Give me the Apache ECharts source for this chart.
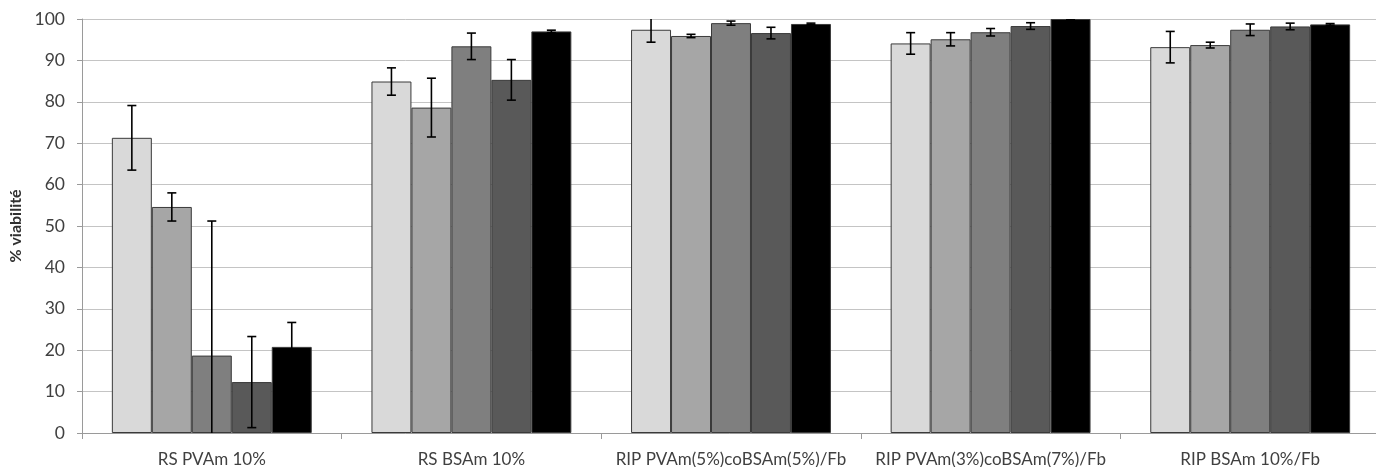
<!DOCTYPE html>
<html><head><meta charset="utf-8">
<script src="https://cdn.jsdelivr.net/npm/echarts@6/dist/echarts.min.js"></script>
<style>html,body{margin:0;padding:0;background:#fff}#c{width:1376px;height:467px}</style>
</head><body><div id="c"></div>
<script>
const categories = ['RS PVAm 10%', 'RS BSAm 10%', 'RIP PVAm(5%)coBSAm(5%)/Fb', 'RIP PVAm(3%)coBSAm(7%)/Fb', 'RIP BSAm 10%/Fb'];
const yTicks = [0, 100, 10];
const s1 = [71.3, 84.9, 97.4, 94.1, 93.2];
const s2 = [54.6, 78.6, 95.9, 95.1, 93.7];
const s3 = [18.7, 93.4, 99.0, 96.8, 97.4];
const s4 = [12.3, 85.3, 96.6, 98.3, 98.2];
const s5 = [20.8, 97.0, 98.8, 100.0, 98.7];
const e1 = [7.8, 3.3, 3.0, 2.6, 3.8];
const e2 = [3.4, 7.1, 0.4, 1.6, 0.7];
const e3 = [32.5, 3.2, 0.5, 0.9, 1.4];
const e4 = [11.0, 4.9, 1.4, 0.8, 0.8];
const e5 = [5.9, 0.3, 0.2, 0.2, 0.2];
const colors = ['#d9d9d9', '#a6a6a6', '#7f7f7f', '#595959', '#000000'];

const values = [s1, s2, s3, s4, s5];
const errors = [e1, e2, e3, e4, e5];
const catGap = 0.23;
const nSeries = values.length;

const series = [];
values.forEach((v, i) => {
  series.push({
    type: 'bar', data: v, barGap: '0%', barCategoryGap: (catGap * 100) + '%',
    itemStyle: { color: colors[i], borderColor: '#3a3a3a', borderWidth: 1 },
    z: 2
  });
});
values.forEach((v, i) => {
  series.push({
    type: 'custom', clip: true, z: 5,
    data: v.map((m, k) => [k, m - errors[i][k], m + errors[i][k]]),
    renderItem: function (params, api) {
      const x = api.value(0);
      const lo = api.coord([x, api.value(1)]);
      const hi = api.coord([x, api.value(2)]);
      const band = api.size([1, 0])[0];
      const group = band * (1 - catGap);
      const bw = group / nSeries;
      const cx = lo[0] - group / 2 + (i + 0.5) * bw;
      const capW = 4.5;
      const st = { stroke: '#000', lineWidth: 1.6 };
      return {
        type: 'group', children: [
          { type: 'line', shape: { x1: cx, y1: lo[1], x2: cx, y2: hi[1] }, style: st },
          { type: 'line', shape: { x1: cx - capW, y1: lo[1], x2: cx + capW, y2: lo[1] }, style: st },
          { type: 'line', shape: { x1: cx - capW, y1: hi[1], x2: cx + capW, y2: hi[1] }, style: st }
        ]
      };
    }
  });
});

const chart = echarts.init(document.getElementById('c'), null, { renderer: 'canvas' });
chart.setOption({
  animation: false,
  backgroundColor: '#fff',
  grid: { left: 82, width: 1298, top: 19, bottom: 34, containLabel: false, outerBoundsMode: 'none' },
  xAxis: {
    type: 'category', data: categories, boundaryGap: true,
    axisLine: { lineStyle: { color: '#9a9a9a', width: 1 } },
    axisTick: { show: true, interval: 0, alignWithLabel: false, length: 6, lineStyle: { color: '#9a9a9a' } },
    axisLabel: { interval: 0, hideOverlap: false, color: '#404040', fontFamily: 'Lato', fontSize: 17, margin: 18 }
  },
  yAxis: {
    type: 'value', min: yTicks[0], max: yTicks[1], interval: yTicks[2],
    name: '% viabilité', nameLocation: 'middle', nameGap: 56, nameRotate: 90,
    nameTextStyle: { color: '#303030', fontFamily: 'Lato', fontSize: 16, fontWeight: 'bold' },
    axisLine: { show: true, lineStyle: { color: '#9a9a9a' } },
    axisTick: { show: true, length: 5, lineStyle: { color: '#9a9a9a' } },
    axisLabel: { color: '#404040', fontFamily: 'Lato', fontSize: 17.5, margin: 17 },
    splitLine: { lineStyle: { color: '#c4c4c4', width: 1 } }
  },
  series: series
});
</script>
</body></html>
